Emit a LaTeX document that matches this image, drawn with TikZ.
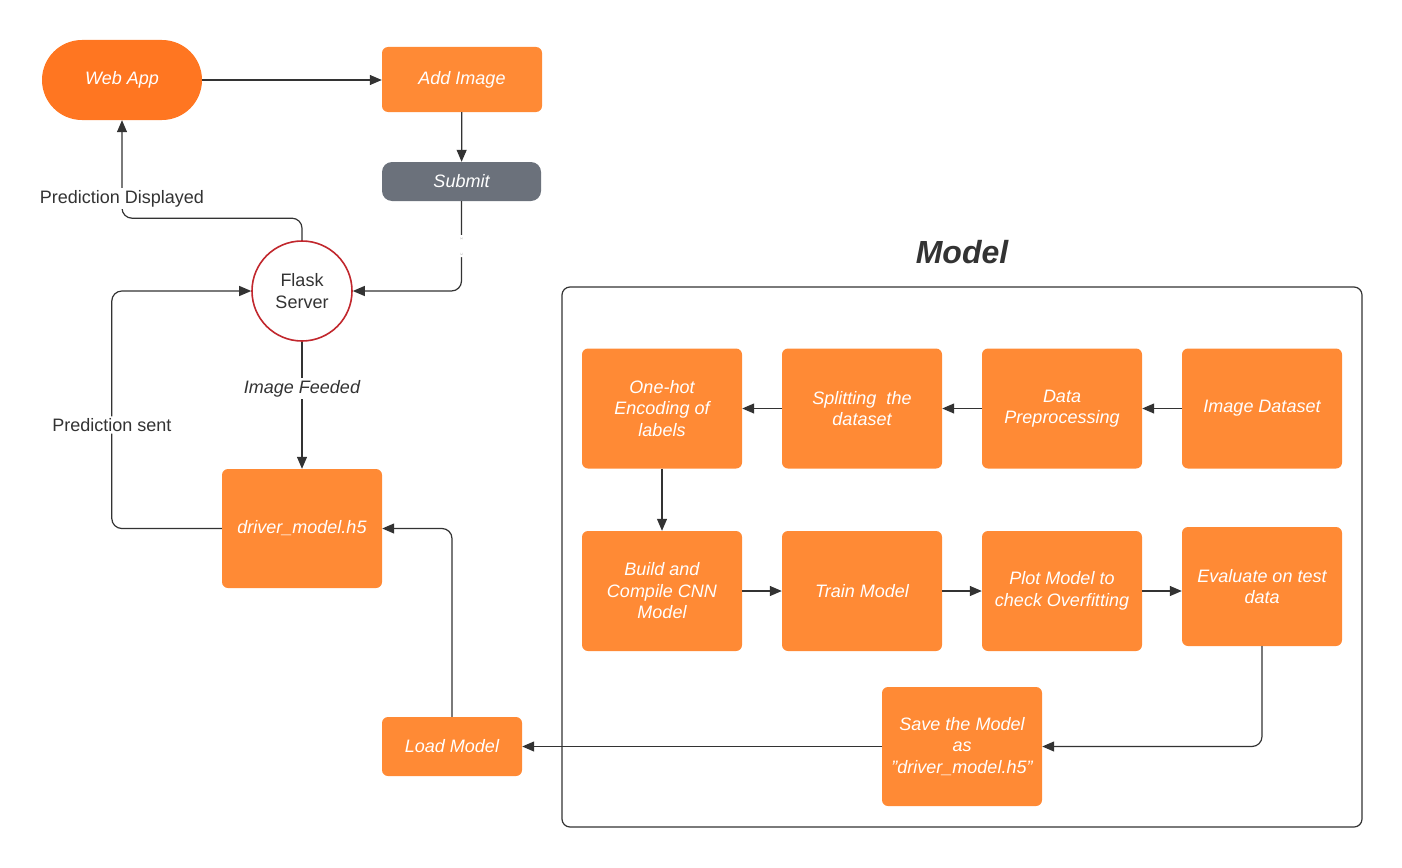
\documentclass[tikz,border=0pt]{standalone}
\usepackage{fontspec}
\setmainfont{Liberation Sans}
\usetikzlibrary{arrows.meta}
\definecolor{lorange}{HTML}{FF8A35}
\definecolor{dorange}{HTML}{FF7621}
\definecolor{sgray}{HTML}{6B717B}
\definecolor{fred}{HTML}{C1272D}
\definecolor{ink}{HTML}{333333}
\begin{document}
\begin{tikzpicture}[x=1pt,y=-1pt,
  box/.style={fill=lorange, rounded corners=6pt, minimum width=160pt, minimum height=120pt,
    text=white, font=\fontsize{18}{21.5}\selectfont\itshape, align=center, inner sep=0pt},
  conn/.style={draw=ink, line width=1.2pt, -{Triangle[length=12pt,width=10pt]}, rounded corners=10pt},
  lbl/.style={fill=white, text=ink, font=\fontsize{18}{21.5}\selectfont, inner sep=2pt},
  gapnode/.style={fill=white, minimum height=22pt, minimum width=6pt, inner sep=0pt}]
\useasboundingbox (0,0) rectangle (1402,867);

% left part
\node[box, minimum height=80pt, rounded corners=40pt, fill=dorange] (web) at (122,80) {Web App};
\node[box, minimum height=65pt] (add) at (462,79.5) {Add Image};
\node[box, minimum height=39pt, minimum width=159pt, fill=sgray, rounded corners=10pt] (sub) at (461.5,181.5) {Submit};
\node[circle, draw=fred, line width=1.6pt, fill=white, minimum size=100pt, text=ink,
  font=\fontsize{18}{21.5}\selectfont, align=center, inner sep=0pt] (flask) at (302,291) {Flask\\Server};
\node[box, minimum height=119pt] (drv) at (302,528.5) {driver\_model.h5};
\node[box, minimum width=140pt, minimum height=59pt] (load) at (452,746.5) {Load Model};

% model frame
\node[draw=ink, line width=1.2pt, rounded corners=8pt, minimum width=800pt, minimum height=540pt, inner sep=0pt] (frame) at (962,557) {};
\node[font=\fontsize{32}{38}\selectfont\bfseries\itshape, text=ink] (title) at (962,252) {Model};

\node[box] (onehot) at (662,408.5) {One-hot\\Encoding of\\labels};
\node[box] (split) at (862,408.5) {Splitting~ the\\dataset};
\node[box] (prep) at (1062,408.5) {Data\\Preprocessing};
\node[box] (data) at (1262,408.5) {Image Dataset};
\node[box] (build) at (662,591) {Build and\\Compile CNN\\Model};
\node[box] (train) at (862,591) {Train Model};
\node[box] (plot) at (1062,591) {Plot Model to\\check Overfitting};
\node[box, minimum height=119pt] (eval) at (1262,586.5) {Evaluate on test\\data};
\node[box, minimum height=119pt] (save) at (962,746.5) {Save the Model\\as\\"driver\_model.h5"};

% connectors
\draw[conn] (web.east) -- (web.east -| add.west);
\draw[conn] (add) -- (sub);
\draw[conn] (sub.south) |- node[gapnode, pos=0.25] {} (flask.east);
\draw[conn] (flask.north) -- ++(0,-22) -| node[lbl, pos=0.6] (pdl) {Prediction Displayed} (web.south);
\draw[conn] (flask.south) -- node[lbl, pos=0.367, font=\fontsize{18}{21.5}\selectfont\itshape] (ifl) {Image Feeded} (drv.north);
\draw[conn] (drv.west) -- ++(-110,0) |- node[lbl, pos=0.218] (psl) {Prediction sent} (flask.west);
\draw[conn] (load.north) |- (drv.east);
\draw[conn] (data) -- (prep);
\draw[conn] (prep) -- (split);
\draw[conn] (split) -- (onehot);
\draw[conn] (onehot) -- (build);
\draw[conn] (build) -- (train);
\draw[conn] (train) -- (plot);
\draw[conn] (plot.east) -- (plot.east -| eval.west);
\draw[conn] (eval.south) |- (save.east);
\draw[conn] (save.west) -- (load.east);
\end{tikzpicture}
\end{document}
